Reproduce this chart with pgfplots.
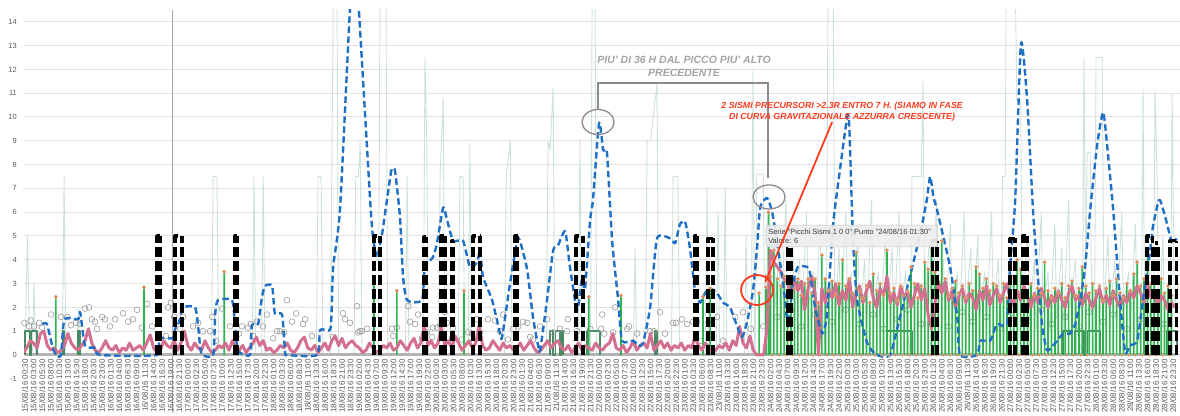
\documentclass[border=0pt]{standalone}
\usepackage{fontspec}
\setmainfont{Liberation Sans}
\usepackage{pgfplots}
\usepackage{pgfplotstable}
\pgfplotsset{compat=1.18}
\usetikzlibrary{arrows.meta}
\definecolor{pale}{HTML}{CDE0DA}
\definecolor{bluec}{HTML}{1F6FC4}
\definecolor{pinkc}{HTML}{D4708F}
\definecolor{stickc}{HTML}{2EB34E}
\definecolor{orangec}{HTML}{DB8553}
\definecolor{circc}{HTML}{9A9A9A}
\definecolor{stepc}{HTML}{4A8A62}
\definecolor{basec}{HTML}{B4B4B4}
\definecolor{gridc}{HTML}{E3E3E3}
\definecolor{labc}{HTML}{595959}
\definecolor{annog}{HTML}{8C8C8C}
\definecolor{annot}{HTML}{A3A3A3}
\definecolor{redc}{HTML}{FF3B1F}
\definecolor{vline}{HTML}{A8A8A8}
\definecolor{tipfill}{HTML}{EDEDED}
\definecolor{tipdraw}{HTML}{C8C8C8}
\definecolor{tiptext}{HTML}{3A3A3A}
\newcommand\twod[1]{\ifnum#1<10 0\fi#1}
\newcommand\mylab[1]{%
\pgfmathtruncatemacro\hh{1+5*#1}%
\pgfmathtruncatemacro\dd{15+floor(\hh/48)}%
\pgfmathtruncatemacro\rr{\hh-48*floor(\hh/48)}%
\pgfmathtruncatemacro\ho{floor(\rr/2)}%
\pgfmathtruncatemacro\mi{30*(\rr-2*floor(\rr/2))}%
\dd/08/16 \twod{\ho}:\twod{\mi}}
\pgfplotstableread{
t v
9.5 2.45
35.2 2.85
58.6 3.5
102.3 3.3
109.0 2.7
128.6 2.7
165.0 2.45
174.4 2.5
198.3 2.45
200.4 2.8
214.7 2.6
216.7 2.85
217.4 6.0
218 3.3
219 4.4
220 3.2
221 2.9
222 3.3
223 2.4
224 3.1
225 2.8
226 3.2
227 2.5
228 3.0
229 3.2
230 2.6
231 3.2
232 2.2
233 4.2
234 3.2
235 2.7
236 3.1
237 2.5
238 3.0
239 4.0
240 2.9
241 3.2
242 2.6
243 4.3
244 2.7
245 2.4
246 2.9
247 2.2
248 3.4
249 2.7
250 3.0
251 2.5
252 4.4
253 2.6
254 2.8
255 2.3
256 2.9
257 2.5
258 2.7
259 3.7
260 3.0
261 2.4
262 2.9
263 3.9
264 3.6
265 4.8
266 3.5
267 2.7
268 4.8
269 3.2
270 2.5
271 2.8
272 3.1
273 2.6
274 2.9
275 2.4
276 3.0
277 2.7
278 3.7
279 3.4
280 2.8
281 3.2
282 2.7
283 3.0
284 2.9
285 2.5
286 3.0
287 2.4
288 3.6
289 3.3
290 4.0
291 3.6
292 3.1
293 2.6
294 3.0
295 2.5
296 2.8
297 2.6
298 3.9
299 2.7
300 2.4
301 2.8
302 2.6
303 3.0
304 2.4
305 2.9
306 3.1
307 2.5
308 2.8
309 3.7
310 2.9
311 2.6
312 3.0
313 2.7
314 2.9
315 2.3
316 2.8
317 3.1
318 2.5
319 3.2
320 2.6
321 2.4
322 3.0
323 2.7
324 3.4
325 3.9
326 2.9
327 3.2
328 4.3
329 3.0
330 3.2
331 2.7
332 3.2
333 2.6
334 2.9
335 2.5
}\sticks
\begin{document}
\begin{tikzpicture}
\begin{axis}[name=ax, at={(0,0)}, anchor=south west, scale only axis,
  width=1156pt, height=368.9pt, xmin=0.2, xmax=337.5, ymin=-1, ymax=14.5,
  axis line style={draw=none}, xtick=\empty, ytick={0,1,...,14},
  extra y ticks={-1}, extra y tick style={grid=none},
  ymajorgrids, grid style={gridc, line width=1pt},
  major tick length=0pt, tick style={draw=none},
  /pgf/number format/assume math mode=true,
  yticklabel style={font=\fontsize{7.5}{9}\selectfont, text=labc, inner sep=0pt, xshift=-7pt},
  clip mode=individual,
  every axis plot/.append style={line join=round}]
% pale background series
\addplot[pale, line width=0.9pt] coordinates {(0.5,0)(1.2,5)(1.9,0)(2.6,0)(3.1,3)(3.6,0)(11.4,0)(11.9,7.5)(12.4,0)(15.6,0)(16.1,2)(16.6,0)(54.9,0)(55.4,7.5)(56.5,7.5)(57.0,0)(66.8,0)(67.3,7.5)(67.8,0)(69.5,0)(70.0,7.5)(70.5,0)(85.5,0)(86.0,7.5)(86.9,7.5)(87.4,0)(89.6,0)(90.0,7.5)(90.5,16)(91.5,16)(92.0,0)(96.5,0)(97.0,7.5)(97.8,7.5)(98.3,9)(98.8,0)(103.6,0)(104.1,16)(105.8,16)(106.3,0)(111.5,0)(112.0,7.5)(112.5,0)(116.7,0)(117.2,12.5)(117.7,9)(118.2,0)(121.1,0)(121.6,7.5)(122.5,10.8)(123.0,0)(126.9,0)(127.4,7.5)(128.3,7.5)(128.8,0)(129.8,0)(130.3,8.9)(130.8,0)(140.4,0)(140.9,7.5)(142.1,9)(142.6,0)(152.6,0)(153.1,9)(153.7,8.6)(154.6,11.2)(155.1,0)(161.9,0)(162.4,9)(162.9,0)(165.5,0)(166.0,16)(166.8,16)(167.3,0)(178.0,0)(178.5,4.5)(179.0,0)(181.5,0)(182.0,9)(183.0,9)(184.9,11.4)(185.4,0)(189.1,0)(189.6,7.5)(191.0,7.5)(191.5,0)(199.0,0)(199.5,7)(200.0,0)(202.2,0)(202.7,6)(203.2,0)(204.3,0)(204.8,7)(205.3,0)(210.4,0)(210.9,5)(211.4,0)(212.4,0)(212.9,12)(213.4,0)(213.5,0)(214.0,7.6)(215.9,7.6)(216.4,0)
(217.5,6)(218.0,3)(219.0,5.5)(219.5,2)(220.5,4.5)(221.0,1)(222.5,6.5)(223.0,2)(224.5,5)(225.0,1.5)(226.5,4)(227.0,1)(228.5,6)(229.0,2)(230.5,3.5)(231.0,1)(232.5,5.5)(233.0,2)(234.3,0)(234.8,16)(236.3,16)(236.8,1)(238.0,4.5)(238.5,1.5)(240.0,6)(240.5,2)(241.5,3.5)(242.0,1)(243.5,5)(244.0,1.5)(245.5,4)(246.0,1)(247.5,6.5)(248.0,2)(249.5,3.5)(250.0,1)(251.5,5)(252.0,1.5)(253.5,4.5)(254.0,1)(255.5,6)(256.0,2)(257.5,3.5)(258.0,1)(258.8,0)(259.3,7.5)(262.0,7.5)(262.5,11.5)(263.0,2)(264.5,5)(265.0,1.5)(266.5,6.5)(267.0,2)(268.5,4)(269.0,1)(270.5,5.5)(271.0,1.5)(272.5,3.5)(273.0,1)(274.5,6)(275.0,2)(276.5,4.5)(277.0,1)(278.5,5)(279.0,1.5)(280.5,3.5)(281.0,1)(282.5,6)(283.0,2)(284.5,4)(285.2,0)(285.7,7.5)(286.5,7.5)(286.8,16)(289.4,16)(289.9,10.7)(291.0,10.7)(291.5,2)(293.0,5)(293.5,1.5)(295.0,4)(295.5,1)(297.0,6)(297.5,2)(299.0,3.5)(299.5,1)(301.0,5.5)(301.5,1.5)(303.0,4.5)(303.5,1)(305.0,6.5)(305.5,2)(307.0,4)(307.5,1)(309.0,0)(309.5,12.5)(310.0,3)(310.4,8.5)(311.3,8.5)(311.8,1)(312.5,0)(313.0,12.5)(314.8,12.5)(315.3,2)(316.5,5)(317.0,1.5)(318.5,4)(319.0,1)(320.5,6)(321.0,2)(322.5,3.5)(323.0,1)(324.5,5.5)(325.0,1.5)(326.2,0)(326.7,11.2)(327.2,1)(328.5,4.5)(329.0,1)(329.7,0)(330.2,11.1)(330.8,7.5)(331.3,1)(332.5,5)(333.0,1.5)(334.7,0)(335.2,11)(335.8,2)(337,3)};
% thin vertical cursor line
\draw[vline, line width=0.8pt] (axis cs:43.4,14.5) -- (axis cs:43.4,-2.44);
% gray base at zero
\addplot[basec, line width=3pt] coordinates {(0.5,0)(336,0)};
% dark green step series
\addplot[stepc, line width=1.8pt, unbounded coords=jump] coordinates {(0.5,0)(0.5,1)(2.0,1)(2.0,0)(2.4,0)(2.4,1)(4.0,1)(4.0,0)(4.1,nan)(11.6,0)(11.6,1)(12.0,1)(12.0,0)(12.1,nan)(16.0,0)(16.0,1)(16.5,1)(16.5,0)(16.6,nan)(153.7,0)(153.7,1)(154.5,1)(154.5,0)(155.3,0)(155.3,1)(156.5,1)(156.5,0)(157.0,0)(157.0,1)(157.5,1)(157.5,0)(157.6,nan)(164.5,0)(164.5,1)(168.3,1)(168.3,0)(168.4,nan)(184.3,0)(184.3,1)(184.9,1)(184.9,0)(185.0,nan)(252.0,0)(252.0,1)(259.3,1)(259.3,0)(259.4,nan)(303.4,0)(303.4,1)(306.0,1)(306.0,0)(306.8,0)(306.8,1)(309.5,1)(309.5,0)(310.5,0)(310.5,1)(314.2,1)(314.2,0)(314.3,nan)(333.7,0)(333.7,1)(336.6,1)(336.6,0)};
% gray open circles
\addplot[only marks, mark=o, mark size=2.9pt, circc, mark options={line width=0.6pt}] coordinates {(0.3,1.35)(1.7,1.2)(2.2,1.45)(3.1,1.2)(4.6,1.35)(5.5,1.15)(8.1,1.7)(11.0,1.6)(12.8,1.6)(13.9,1.25)(15.4,1.35)(16.5,1.3)(18.0,1.95)(19.2,2.0)(20.0,1.5)(20.9,1.4)(21.5,1.1)(23.0,1.6)(23.8,1.5)(25.3,1.2)(26.8,1.5)(29.1,1.75)(30.6,1.4)(32.0,1.5)(33.2,1.9)(34.6,1.15)(36.1,2.15)(37.6,1.2)(41.6,0.8)(42.2,2.0)(43.1,2.2)(44.0,1.6)(45.7,1.1)(46.6,1.6)(49.5,1.2)(51.0,1.35)(52.4,1.0)(54.5,1.0)(55.1,1.6)(56.2,0.6)(58.0,1.95)(60.3,1.2)(62.9,0.9)(63.8,1.2)(65.6,1.15)(66.4,1.3)(67.0,0.8)(68.2,1.4)(69.9,1.2)(71.1,1.7)(72.9,0.7)(74.0,1.0)(74.9,1.0)(76.1,0.95)(76.9,2.3)(78.4,1.4)(79.6,1.75)(81.6,1.3)(82.2,1.5)(84.2,0.8)(90.4,0.75)(93.3,1.75)(93.9,1.5)(95.3,1.35)(97.4,2.05)(97.7,0.95)(98.2,1.0)(98.8,1.0)(100.3,1.1)(107.6,1.1)(107.9,0.8)(109.0,1.15)(112.3,2.05)(112.8,1.4)(114.3,1.3)(115.2,1.7)(116.3,0.7)(117.8,0.95)(119.3,0.75)(119.5,1.15)(120.7,1.15)(121.6,1.25)(123.0,1.8)(123.6,1.35)(125.1,0.7)(125.4,1.15)(128.0,0.65)(129.8,0.95)(130.9,0.9)(132.4,1.5)(133.3,0.95)(135.6,1.5)(137.6,1.45)(139.1,1.0)(140.0,1.7)(141.4,0.65)(142.9,1.1)(144.4,1.2)(145.8,1.4)(147.0,1.35)(147.9,0.75)(148.7,0.65)(150.8,1.2)(152.8,1.5)(154.6,0.95)(156.6,1.1)(158.7,1.0)(158.9,1.5)(161.6,1.0)(165.4,1.1)(168.6,1.1)(168.9,1.7)(169.5,0.9)(172.1,0.95)(172.7,2.0)(176.2,1.1)(176.7,1.2)(179.1,0.9)(182.9,1.0)(184.0,1.0)(185.8,1.8)(187.2,0.9)(189.6,1.35)(190.5,1.35)(192.2,1.5)(193.7,1.3)(195.4,1.4)(196.6,1.4)(197.5,0.6)(202.4,1.6)(204.2,0.6)(207.7,1.6)(210.0,1.8)(212.3,1.1)(215.9,1.2)(220,1.6)(224,1.9)(227,1.2)(231,1.7)(236,1.4)(240,1.9)(244,1.3)(248,1.7)(251,1.1)(255,1.5)(258,1.9)(262,1.3)(266,1.6)(270,1.2)(274,1.8)(277,1.4)(281,1.6)(285,1.1)(289,1.7)(293,1.4)(297,1.9)(300,1.3)(304,1.6)(308,1.2)(311,1.8)(315,1.4)(318,1.7)(322,1.1)(326,1.5)(330,1.9)(333,1.3)};
% green sticks
\addplot[ybar, bar width=1.7pt, bar shift=0pt, fill=stickc, draw=none] table[x=t, y=v] {\sticks};
% pink series (hourly)
\addplot[pinkc, line width=3pt] table[header=false, row sep=\\, x expr=\coordindex, y index=0] {
0.1\\0.3\\0.6\\0.5\\0.3\\0.9\\1.0\\0.4\\0.2\\0.3\\0.1\\0.2\\0.4\\0.9\\0.5\\0.3\\0.2\\0.4\\0.6\\1.1\\0.5\\0.2\\0.1\\0.3\\
0.6\\0.3\\0.2\\0.4\\0.1\\0.3\\0.2\\0.5\\0.2\\0.3\\0.4\\0.2\\0.5\\0.85\\0.3\\0.1\\0.2\\0.6\\0.4\\0.3\\0.6\\0.2\\0.5\\1.0\\
0.4\\0.2\\0.5\\0.3\\0.2\\0.6\\0.3\\0.1\\0.2\\0.4\\0.3\\0.5\\0.2\\0.6\\0.3\\0.2\\0.4\\0.1\\0.3\\0.5\\0.75\\0.4\\0.6\\0.2\\
0.3\\0.1\\0.2\\0.4\\0.3\\0.5\\0.2\\0.1\\0.3\\0.6\\0.75\\0.3\\0.2\\0.4\\0.1\\0.3\\0.5\\0.2\\0.6\\0.8\\0.4\\0.7\\0.3\\0.5\\
0.6\\0.4\\0.3\\0.1\\0.2\\0.5\\0.3\\0.1\\0.2\\0.4\\0.3\\0.5\\0.2\\0.3\\0.6\\0.4\\0.2\\0.5\\0.7\\0.3\\0.5\\1.25\\0.4\\0.6\\
0.3\\0.5\\1.15\\0.4\\0.6\\0.3\\0.8\\0.5\\0.2\\0.4\\0.6\\0.3\\0.5\\1.25\\0.4\\0.2\\0.3\\0.6\\0.4\\0.2\\0.5\\0.3\\0.4\\0.2\\
0.3\\0.5\\0.2\\0.4\\0.6\\0.3\\0.1\\0.2\\0.4\\0.6\\0.3\\0.5\\0.6\\0.3\\0.2\\0.4\\0.1\\0.3\\0.5\\0.2\\0.4\\0.3\\0.2\\0.5\\
0.3\\0.2\\0.4\\0.5\\0.9\\0.3\\0.2\\0.4\\0.1\\0.3\\0.6\\0.2\\0.4\\0.5\\0.3\\0.9\\0.2\\0.4\\0.6\\0.3\\0.5\\0.2\\0.4\\0.3\\
0.5\\0.2\\0.4\\0.3\\0.75\\0.4\\0.2\\0.5\\0.3\\0.1\\0.2\\0.4\\0.3\\0.5\\0.2\\0.6\\0.4\\1.2\\0.5\\0.3\\0.8\\0.2\\0.0\\0.0\\
0.0\\1.1\\
4.4\\3.9\\3.7\\3.5\\3.2\\3.0\\2.5\\3.2\\2.7\\3.1\\1.9\\2.8\\3.3\\2.6\\0.0\\2.8\\2.2\\2.8\\2.4\\3.0\\
2.1\\2.7\\2.3\\3.2\\2.0\\2.6\\2.9\\2.2\\2.7\\3.1\\2.4\\2.0\\2.8\\2.5\\3.3\\2.2\\2.6\\2.1\\2.9\\2.4\\
2.7\\2.0\\2.5\\3.0\\2.3\\2.8\\1.7\\1.1\\2.2\\3.1\\2.6\\3.1\\2.3\\2.7\\2.0\\2.5\\2.8\\2.2\\2.6\\2.4\\
1.9\\2.7\\2.3\\2.9\\2.1\\2.5\\2.8\\2.2\\2.6\\3.0\\2.4\\2.1\\2.7\\2.3\\2.9\\2.5\\2.0\\2.6\\2.2\\2.8\\
2.4\\2.0\\2.5\\2.2\\2.7\\2.3\\2.0\\2.6\\2.9\\2.3\\2.5\\2.1\\2.6\\2.3\\2.0\\2.4\\2.8\\2.2\\2.5\\2.1\\
2.7\\2.3\\2.0\\2.5\\2.2\\2.7\\2.4\\2.9\\2.6\\2.2\\3.0\\2.4\\2.7\\2.1\\2.5\\2.3\\1.9\\2.2\\2.0\\
};
% blue gravitational curve
\addplot[bluec, line width=2.4pt, dash pattern=on 6.5pt off 3.5pt, smooth, tension=0.35] coordinates {(5.5,1.3)(6.9,1.3)(8.4,0.4)(9.5,0)(11.0,0)(12.0,1.5)(16.0,1.5)(16.6,1.8)(18.0,0.4)(20.9,0.3)(22.4,0)(39.0,0)(39.5,0.7)(43.5,0.7)(44.3,1.1)(45.5,1.4)(46.6,2.0)(50.1,2.0)(51.0,1.2)(51.6,0.35)(52.2,0)(55.4,0)(56.0,1.75)(56.8,2.3)(60.9,2.3)(61.8,1.2)(62.4,0.3)(63.2,0.1)(66.1,0)(66.7,1.25)(68.5,1.3)(69.6,2.4)(70.5,2.9)(72.6,2.9)(73.4,1.75)(75.5,1.7)(76.4,0.1)(77,0)(85.7,0)(86.6,1.05)(89.5,1.05)(90.0,2.0)(90.4,3.7)(92.4,6.1)(95.3,14.5)(96.6,16.5)(97.9,14.5)(101.2,6.5)(102.0,5.0)(103.2,4.1)(104.7,5.1)(105.5,5.9)(107.3,7.7)(107.9,7.85)(108.5,7.7)(109.9,5.8)(110.8,3.3)(112.0,2.3)(116.3,2.3)(117.2,3.7)(119.5,4.1)(120.7,4.7)(122.5,6.2)(123.6,5.7)(125.4,4.8)(128.3,4.8)(130.3,3.7)(132.4,3.9)(133.3,4.4)(134.1,3.3)(136.8,2.3)(139.1,0.9)(139.7,0.75)(142.0,3.0)(144.1,4.8)(144.9,4.8)(147.0,3.6)(148.7,1.6)(150.2,0.4)(150.8,0.2)(152.8,2.3)(154.6,4.4)(156.0,4.6)(158.1,5.2)(159.5,3.7)(161.6,1.9)(163.0,3.2)(163.9,2.8)(165.4,5.7)(166.2,6.5)(168.0,9.75)(169.2,8.6)(170.3,8.5)(171.8,4.8)(173.5,2.4)(174.7,0.6)(177.9,0.6)(179.4,0.4)(180.8,0.5)(182.9,2.0)(184.9,4.9)(188.7,4.9)(190.2,4.7)(191.6,5.5)(193.1,5.6)(194.5,4.5)(196.0,2.7)(197.5,2.2)(198.9,2.6)(200.4,2.8)(202.4,2.6)(204.2,2.2)(206.2,2.0)(208.3,1.2)(209.7,0.75)(211.2,1.4)(212.9,2.7)(214.1,4.5)(215.0,6.2)(217.0,6.6)(218.5,6.0)(220.2,4.5)(222.3,2.3)(223.1,1.2)(224.6,3.0)(226.0,3.7)(228.7,3.7)(229.6,3.4)(231.0,2.0)(233.1,0.9)(234.5,1.7)(236.3,5.5)(238.3,7.8)(240.4,10.0)(241.0,9.6)(242.1,4.8)(243.3,2.3)(246.2,0.5)(249.1,0)(252.9,0)(255.8,1.6)(258.7,3.3)(261.7,5.1)(263.6,6.5)(264.6,7.5)(265.6,6.6)(266.6,6.1)(270.4,3.7)(272.5,1.6)(273.3,0)(278.3,0)(279.2,0.6)(282.1,0.6)(284.1,1.3)(287.0,1.3)(287.9,3.7)(289.4,6.5)(291.1,13.1)(292.9,10.7)(294.6,6.1)(295.8,3.7)(297.3,1.2)(298.7,0.2)(300.5,0.4)(303.4,0.9)(305.4,0.9)(306.9,1.3)(308.4,2.3)(309.8,3.7)(311.3,6.1)(313.3,8.8)(315.1,10.2)(316.5,8.4)(318.0,6.1)(320.0,2.3)(321.5,0.1)(322.9,0.4)(325.0,0.6)(326.7,2.3)(328.8,4.4)(329.6,5.4)(331.1,6.4)(331.7,6.5)(333.2,5.8)(335.2,4.7)(336.5,4.9)};
% orange markers on stick tops and at zero
\addplot[only marks, mark=*, mark size=1.9pt, mark options={fill=orangec, draw=orangec!60!white, line width=0.3pt}] table[x=t, y=v] {\sticks};
\addplot[only marks, mark=*, mark size=1.5pt, mark options={fill=orangec, draw=orangec!60!white, line width=0.3pt}] coordinates {(218.5,0)(220.5,0)(222.5,0)(224.5,0)(226.5,0)(228.5,0)(230.5,0)(232.5,0)(234.5,0)(236.5,0)(238.5,0)(240.5,0)(242.5,0)(244.5,0)(246.5,0)(248.5,0)(250.5,0)(252.5,0)(254.5,0)(256.5,0)(258.5,0)(260.5,0)(262.5,0)(264.5,0)(266.5,0)(268.5,0)(270.5,0)(272.5,0)(274.5,0)(276.5,0)(278.5,0)(280.5,0)(282.5,0)(284.5,0)(286.5,0)(288.5,0)(290.5,0)(292.5,0)(294.5,0)(296.5,0)(298.5,0)(300.5,0)(302.5,0)(304.5,0)(306.5,0)(308.5,0)(310.5,0)(312.5,0)(314.5,0)(316.5,0)(318.5,0)(320.5,0)(322.5,0)(324.5,0)(326.5,0)(328.5,0)(330.5,0)(332.5,0)(334.5,0)};
% black dashed pulses: each side drawn upward so the dashes line up
\addplot[black, line width=3.4pt, dash pattern=on 10pt off 4pt, unbounded coords=jump] coordinates {
(39.0,0)(39.0,5)(40.1,5)(40.1,nan)(40.1,0)(40.1,5)(40.2,nan)
(44.3,0)(44.3,5)(46.3,5)(46.3,nan)(46.3,0)(46.3,5)(46.4,nan)
(61.8,0)(61.8,5)(62.3,5)(62.3,nan)(62.3,0)(62.3,5)(62.4,nan)
(102.3,0)(102.3,5)(104.1,5)(104.1,nan)(104.1,0)(104.1,5)(104.2,nan)
(116.9,0)(116.9,4.95)(117.6,4.95)(117.6,nan)(117.6,0)(117.6,4.95)(117.7,nan)
(121.9,0)(121.9,5)(123.0,5)(123.0,nan)(123.0,0)(123.0,5)(123.1,nan)
(125.1,0)(125.1,4.8)(125.6,4.8)(125.6,nan)(125.6,0)(125.6,4.8)(125.7,nan)
(131.2,0)(131.2,5)(133.3,5)(133.3,nan)(133.3,0)(133.3,5)(133.4,nan)
(143.5,0)(143.5,5)(144.2,5)(144.2,nan)(144.2,0)(144.2,5)(144.3,nan)
(161.3,0)(161.3,5)(163.3,5)(163.3,nan)(163.3,0)(163.3,5)(163.4,nan)
(196.0,0)(196.0,5)(196.7,5)(196.7,nan)(196.7,0)(196.7,5)(196.8,nan)
(199.8,0)(199.8,4.9)(201.2,4.9)(201.2,nan)(201.2,0)(201.2,4.9)(201.3,nan)
(222.9,0)(222.9,4.5)(224.0,4.5)(224.0,nan)(224.0,0)(224.0,4.5)(224.1,nan)
(265.2,0)(265.2,4.8)(266.6,4.8)(266.6,nan)(266.6,0)(266.6,4.8)(266.7,nan)
(287.9,0)(287.9,4.9)(289.4,4.9)(289.4,nan)(289.4,0)(289.4,4.9)(289.5,nan)
(291.7,0)(291.7,5)(292.9,5)(292.9,nan)(292.9,0)(292.9,5)(293.0,nan)
(327.9,0)(327.9,5)(329.4,5)(329.4,nan)(329.4,0)(329.4,5)(329.5,nan)
(330.2,0)(330.2,4.7)(331.1,4.7)(331.1,nan)(331.1,0)(331.1,4.7)(331.2,nan)
(334.6,0)(334.6,4.8)(336.4,4.8)(336.4,nan)(336.4,0)(336.4,4.8)};
% annotations
\draw[annog, line width=1.4pt] (axis cs:167.7,10.29) -- (axis cs:167.7,11.43) -- (axis cs:217.3,11.43) -- (axis cs:217.3,7.44);
\draw[annog, line width=1.3pt] (axis cs:167.7,9.79) ellipse [x radius=16pt, y radius=12.5pt];
\draw[annog, line width=1.3pt] (axis cs:217.6,6.64) ellipse [x radius=16pt, y radius=12pt];
\node[text=annot, font=\fontsize{10.5}{13}\selectfont\bfseries\itshape, align=center] at (axis cs:192.8,12.12) {PIU' DI 36 H DAL PICCO PIU' ALTO\\PRECEDENTE};
\node[text=redc, font=\fontsize{8.8}{11}\selectfont\bfseries\itshape, align=center] at (axis cs:238.9,10.23) {2 SISMI PRECURSORI >2.3R ENTRO 7 H. (SIAMO IN FASE\\DI CURVA GRAVITAZIONALE AZZURRA CRESCENTE)};
\draw[fill=tipfill, fill opacity=0.93, draw=tipdraw, line width=0.6pt, rounded corners=2pt] (axis cs:216.7,5.46) rectangle (axis cs:266.6,4.54);
\node[anchor=west, inner sep=0pt, text=tiptext, font=\fontsize{7.5}{9}\selectfont] at (axis cs:217.3,5.17) {Serie "Picchi Sismi 1 0 0" Punto "24/08/16 01:30"};
\node[anchor=west, inner sep=0pt, text=tiptext, font=\fontsize{7.5}{9}\selectfont] at (axis cs:217.3,4.79) {Valore: 6};
\draw[redc, line width=1.8pt] (axis cs:214.1,2.73) ellipse [x radius=16pt, y radius=15pt];
\draw[redc, line width=1.8pt, -{Stealth[length=8pt, width=6pt]}] (axis cs:236.0,9.79) -- (axis cs:216.4,3.03);
\end{axis}
\foreach \k in {0,...,134}{
  \pgfmathsetmacro\xo{(0.3+2.5*\k)*3.42722}
  \node[rotate=90, anchor=east, inner sep=0pt, font=\fontsize{8}{9.6}\selectfont, text=labc] at ([xshift=\xo pt, yshift=19.8pt]ax.south west) {\mylab{\k}};
}
\pgfresetboundingbox
\useasboundingbox ([xshift=-24pt, yshift=-37.2pt]ax.south west) rectangle ([yshift=9.9pt]ax.north east);
\end{tikzpicture}
\end{document}
